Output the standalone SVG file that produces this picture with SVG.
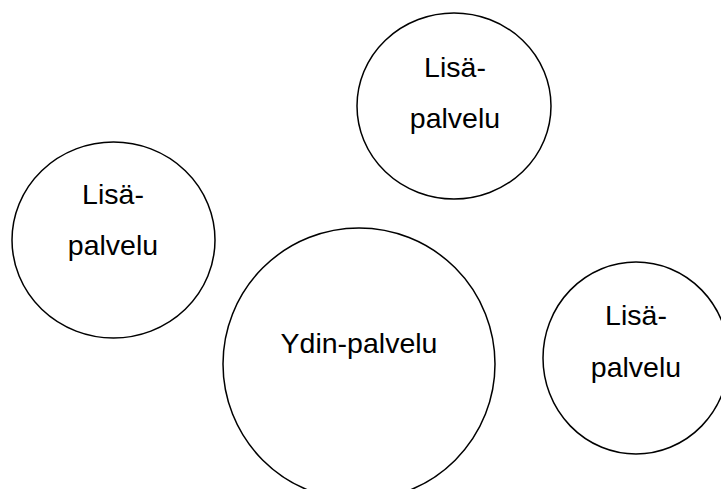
<svg xmlns="http://www.w3.org/2000/svg" width="721" height="489" viewBox="0 0 721 489">
  <style>
    .bubble { fill: #ffffff; stroke: #000000; stroke-width: 1.5; }
    .label { font-family: "Liberation Sans", Arial, sans-serif; font-size: 28.5px; fill: #000000; text-anchor: middle; }
  </style>
  <rect width="721" height="489" fill="#ffffff"/>

  <!-- core service -->
  <g id="ydin">
    <ellipse class="bubble" cx="359" cy="364" rx="136" ry="136"/>
    <text class="label" x="359" y="353">Ydin-palvelu</text>
  </g>

  <!-- supplementary services -->
  <g id="lisa-top">
    <ellipse class="bubble" cx="454" cy="106" rx="97" ry="93"/>
    <text class="label" x="455" y="77">Lisä-</text>
    <text class="label" x="455" y="128">palvelu</text>
  </g>

  <g id="lisa-left">
    <ellipse class="bubble" cx="113.5" cy="240" rx="101.5" ry="98"/>
    <text class="label" x="113" y="204">Lisä-</text>
    <text class="label" x="113" y="255">palvelu</text>
  </g>

  <g id="lisa-right">
    <ellipse class="bubble" cx="636" cy="358" rx="93" ry="96"/>
    <text class="label" x="636" y="325">Lisä-</text>
    <text class="label" x="636" y="377">palvelu</text>
  </g>

  <g id="connectors"></g>
</svg>
